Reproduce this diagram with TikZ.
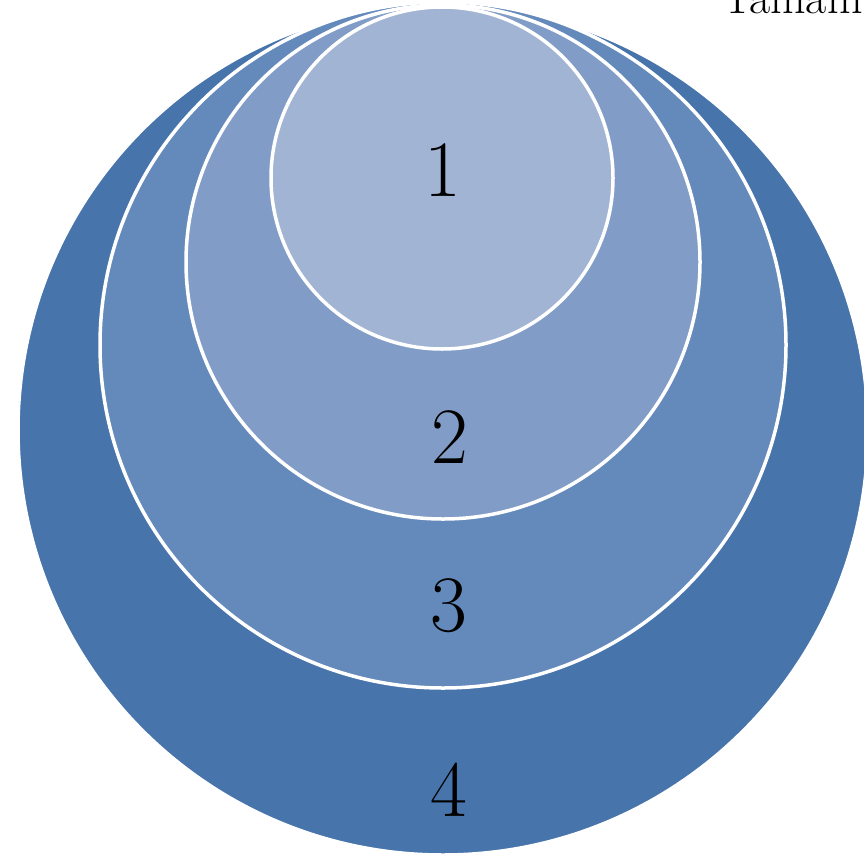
\documentclass[tikz,border=0pt]{standalone}
\usepackage{xcolor}
\usepackage{tikz}
\usetikzlibrary{positioning}
\definecolor{ringA}{RGB}{162,180,212}
\definecolor{ringB}{RGB}{129,157,199}
\definecolor{ringC}{RGB}{100,137,187}
\definecolor{ringD}{RGB}{70,116,171}
\tikzset{
  ring/.style={circle,draw=white,line width=3.5pt,inner sep=0pt},
  num/.style={font=\fontsize{80}{80}\selectfont,text=black},
}
\begin{document}
\begin{tikzpicture}[x=1pt,y=-1pt]
  \useasboundingbox (0,0) rectangle (864,854);
  \node[ring,fill=ringD,minimum size=850pt] (r4) at (443,430) {};
  \node[ring,fill=ringC,minimum size=686pt] (r3) at (443,345) {};
  \node[ring,fill=ringB,minimum size=514pt] (r2) at (443,262) {};
  \node[ring,fill=ringA,minimum size=342pt] (r1) at (442,178) {};
  \node[num] (n1) at (443,170) {1};
  \node[num] (n2) at (450,437) {2};
  \node[num] (n3) at (449,606) {3};
  \node[num] (n4) at (449,790) {4};
  \node[anchor=base west,inner sep=0pt,font=\fontsize{46}{46}\selectfont] (title) at (722,13) {Tamam};
\end{tikzpicture}
\end{document}
